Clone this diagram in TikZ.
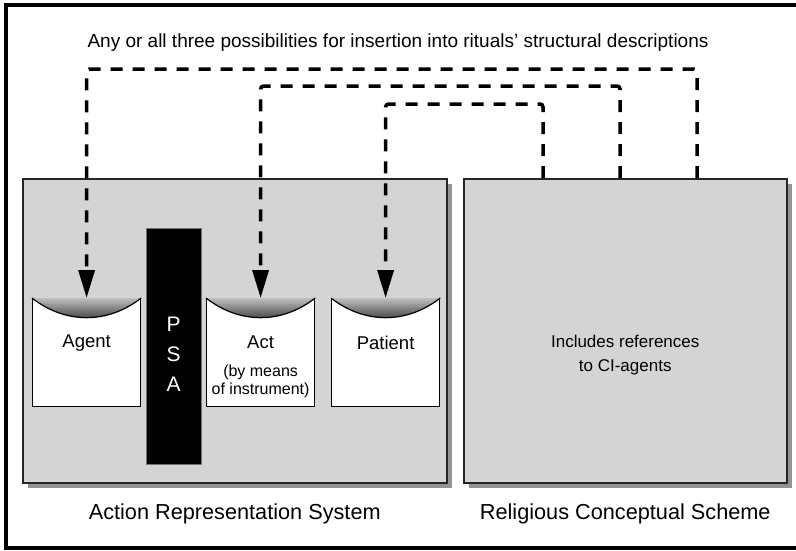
\documentclass[tikz,border=0pt]{standalone}
\usepackage{fontspec}
\setmainfont{Liberation Sans}
\usetikzlibrary{arrows.meta}
\usetikzlibrary{positioning}
\usetikzlibrary{calc}
\usetikzlibrary{shadows}
\tikzset{
	every node/.append style={align=center},
	panel/.style={draw=black!85,
		line width=1.5pt,
		fill=black!17,
		anchor=north west,
		inner sep=0pt,
		drop shadow={shadow xshift=5pt, shadow yshift=-5pt, opacity=0.85}},
	slot/.style={draw,
		line width=1.2pt,
		fill=white,
		anchor=north west,
		inner sep=0pt,
		minimum width=108pt,
		minimum height=108pt},
	bar/.style={draw=black!55,
		fill=black,
		anchor=north west,
		inner sep=0pt,
		minimum width=55pt,
		minimum height=236pt},
	conn/.style={line width=3.5pt,
		dash pattern=on 12pt off 10pt,
		rounded corners=3pt,
		-{Triangle[length=28pt,width=16pt]}},
	big/.style={font=\fontsize{21.7}{26}\selectfont},
	mid/.style={font=\fontsize{18.5}{24}\selectfont},
	small/.style={font=\fontsize{16}{18}\selectfont}
}

\begin{document}
\begin{tikzpicture}[x=1pt, y=-1pt]

	\useasboundingbox (0,0) rectangle (796,550);
	\draw[line width=4pt] (800,4.5) -- (6,4.5) -- (6,547.5) -- (800,547.5);

	\node[font=\fontsize{19}{22}\selectfont] (title) at (398,43) {Any or all three possibilities for insertion into rituals' structural descriptions};

	\node[panel, minimum width=424pt, minimum height=304pt] (ars) at (22,178) {};
	\node[panel, minimum width=323pt, minimum height=304pt] (rcs) at (463,178) {};

	\node[slot] (agent) at (32,298) {};
	\node[bar] (psa) at (146,228) {};
	\node[slot] (act) at (206,298) {};
	\node[slot] (patient) at (331,298) {};

	% scooped tops
	\foreach \s in {agent,act,patient}{
		\shade[top color=black!25, bottom color=black!85] (\s.north west) -- (\s.north east) to[bend left=38] (\s.north west) -- cycle;
		\draw[line width=1.2pt] (\s.north east) to[bend left=38] (\s.north west);
	}

	\node[mid] (agenttext) at ([yshift=10pt]agent.center) {Agent};
	\node[mid] (acttext) at ([yshift=10pt]act.center) {Act};
	\node[small] (actmeans) at ([yshift=-29pt]act.center) {(by means\\of instrument)};
	\node[mid] (patienttext) at ([yshift=10pt]patient.center) {Patient};
	\node[text=white, font=\fontsize{21}{30}\selectfont] (psatext) at ([yshift=-8pt]psa.center) {P\\S\\A};
	\node[font=\fontsize{17}{24}\selectfont] (rcstext) at ([yshift=-24pt]rcs.center) {Includes references\\to CI-agents};

	\node[big] (arscap) at ([yshift=-30pt]ars.south) {Action Representation System};
	\node[big] (rcscap) at ([yshift=-30pt]rcs.south) {Religious Conceptual Scheme};

	\draw[conn] ([xshift=234pt]rcs.north west) -- ++(0,-109) -| (agent.north);
	\draw[conn] ([xshift=157pt]rcs.north west) -- ++(0,-92) -| (act.north);
	\draw[conn] ([xshift=80pt]rcs.north west) -- ++(0,-74) -| (patient.north);

\end{tikzpicture}
\end{document}
